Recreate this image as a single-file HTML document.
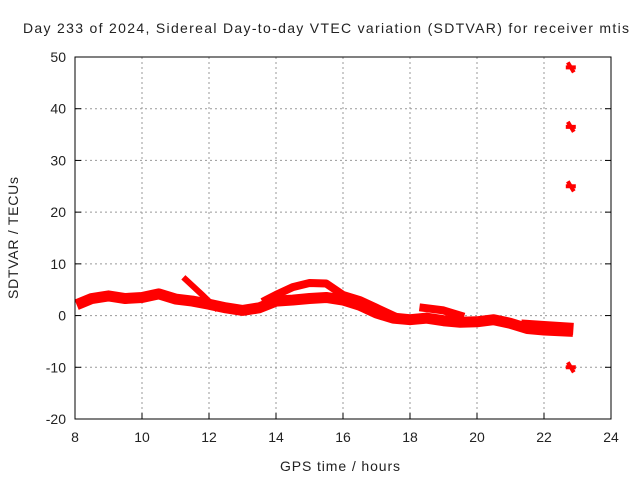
<!DOCTYPE html>
<html><head><meta charset="utf-8"><style>
body{margin:0;background:#fff;}
svg text{font-family:"Liberation Sans",sans-serif;font-size:14px;fill:#222;}
</style></head><body>
<svg id="chart" width="640" height="480" xmlns="http://www.w3.org/2000/svg">
<text x="23" y="33" textLength="606" lengthAdjust="spacing">Day 233 of 2024, Sidereal Day-to-day VTEC variation (SDTVAR) for receiver mtis</text>
<g id="grid"></g>
<g id="series"></g>
<rect x="75" y="57" width="536" height="362" fill="none" stroke="#000" stroke-width="1"/>
<g id="ticks"></g>
<text x="340" y="471" text-anchor="middle" textLength="120">GPS time / hours</text>
<text transform="translate(18,238) rotate(-90)" text-anchor="middle" textLength="122">SDTVAR / TECUs</text>
</svg>
<script>
const xTicks=[8,10,12,14,16,18,20,22,24];
const yTicks=[-20,-10,0,10,20,30,40,50];
const trackMainH=[8.2,8.5,9,9.5,10,10.5,11,11.5,12,12.5,13,13.5,14,14.5,15,15.5,16,16.5,17,17.5,18,18.5,19,19.5,20,20.5,21,21.5,22,22.7];
const trackMainV=[2.5,3.3,3.8,3.3,3.5,4.2,3.2,2.8,2.2,1.5,1.0,1.5,2.8,3.0,3.3,3.5,3.0,2.0,0.5,-0.5,-0.8,-0.5,-1.0,-1.3,-1.2,-0.8,-1.5,-2.5,-2.8,-3.0];
const trackDiagH=[11.3,11.8,12.2];
const trackDiagV=[7,4,1.5];
const trackUpperH=[13.7,14,14.5,15,15.5,16,16.5,17,17.5];
const trackUpperV=[3,4,5.5,6.3,6.2,4,3,1.5,0];
const trackLateH=[18.4,19,19.5];
const trackLateV=[1.5,1,0];
const trackTailH=[21.5,22,22.7];
const trackTailV=[-2,-2.2,-2.5];
const outlierH=[22.8,22.8,22.8,22.8];
const outlierV=[48,36.5,25,-10];
const X=h=>75+(h-8)*(536/16);
const Y=v=>57+(50-v)*(362/70);
const NS="http://www.w3.org/2000/svg";
const grid=document.getElementById('grid'),ticks=document.getElementById('ticks'),ser=document.getElementById('series');
function mk(tag,attrs,parent){const e=document.createElementNS(NS,tag);for(const k in attrs)e.setAttribute(k,attrs[k]);parent.appendChild(e);return e;}
xTicks.forEach(t=>{
 if(t>8&&t<24){const g=mk('line',{x1:X(t),x2:X(t),y1:57,y2:419,stroke:'#999','stroke-dasharray':'2,3'},grid);
 
 }
 mk('line',{x1:X(t),x2:X(t),y1:419,y2:413,stroke:'#000'},ticks);
 const l=mk('text',{x:X(t),y:442,'text-anchor':'middle'},ticks);l.textContent=t;
 
 
});
yTicks.forEach(t=>{
 if(t>-20&&t<50){const g=mk('line',{x1:75,x2:611,y1:Y(t),y2:Y(t),stroke:'#999','stroke-dasharray':'2,3'},grid);
 
 }
 mk('line',{x1:75,x2:81,y1:Y(t),y2:Y(t),stroke:'#000'},ticks);
 mk('line',{x1:611,x2:605,y1:Y(t),y2:Y(t),stroke:'#000'},ticks);
 const l=mk('text',{x:66,y:Y(t)+5,'text-anchor':'end'},ticks);l.textContent=t;
 
 
});
function track(H,V,w,name){
 const p=mk('polyline',{points:H.map((h,i)=>X(h)+','+Y(V[i])).join(' '),fill:'none',stroke:'#f00','stroke-width':w,'stroke-linejoin':'round','stroke-linecap':'square'},ser);
 
 
}
track(trackMainH,trackMainV,11,'sdtvar-main-track');
track(trackDiagH,trackDiagV,6,'sdtvar-diagonal-track');
track(trackUpperH,trackUpperV,8,'sdtvar-upper-track');
track(trackLateH,trackLateV,8,'sdtvar-late-track');
track(trackTailH,trackTailV,12,'sdtvar-tail-track');
outlierH.forEach((h,i)=>{
 const g=mk('path',{d:`M${X(h)-3},${Y(outlierV[i])-5}l6,10M${X(h)-5},${Y(outlierV[i])}h10`,stroke:'#f00','stroke-width':4},ser);
 
 
});
</script>
</body></html>
